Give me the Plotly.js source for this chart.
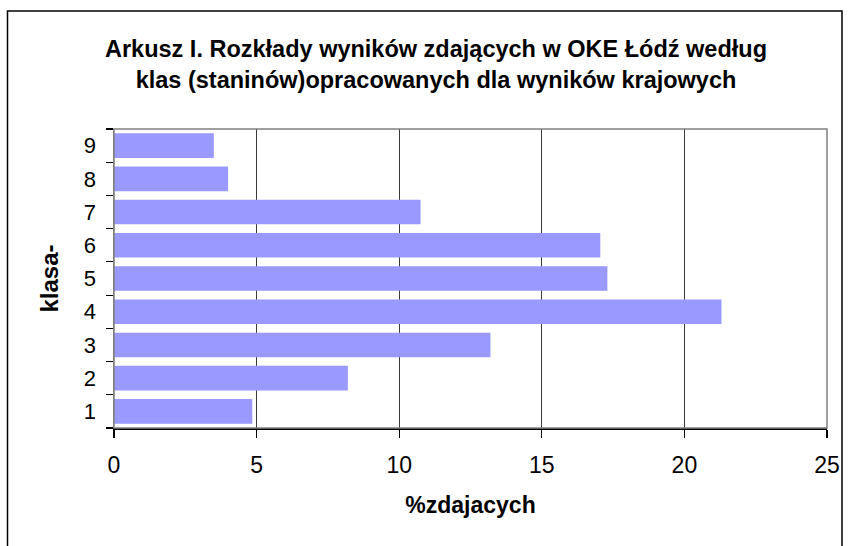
<!DOCTYPE html>
<html>
<head>
<meta charset="utf-8">
<script src="https://cdn.plot.ly/plotly-3.0.1.min.js"></script>
<style>
  html, body { margin: 0; padding: 0; background: #fff; overflow: hidden; }
  #chart { width: 853px; height: 546px; }
</style>
</head>
<body>
<div id="chart"></div>
<script>
// Data
const categories = ['1', '2', '3', '4', '5', '6', '7', '8', '9'];
const percentValues = [4.85, 8.2, 13.2, 21.3, 17.3, 17.05, 10.75, 4.0, 3.5];
const xTickValues = [0, 5, 10, 15, 20, 25];

const titleText = 'Arkusz I. Rozkłady wyników zdających w OKE Łódź według<br>klas (staninów)opracowanych dla wyników krajowych';
const xTitle = '%zdajacych';
const yTitle = 'klasa-';

const FONT = '"Liberation Sans", Arial, sans-serif';

const trace = {
  type: 'bar',
  orientation: 'h',
  x: percentValues,
  y: categories,
  marker: { color: '#9999FF', line: { width: 0 } },
  hoverinfo: 'x+y'
};

const layout = {
  width: 853,
  height: 546,
  margin: { l: 114, r: 26, t: 129, b: 118, pad: 0 },
  paper_bgcolor: '#ffffff',
  plot_bgcolor: '#ffffff',
  font: { family: FONT, color: '#000000', size: 22 },
  showlegend: false,
  bargap: 0.26,
  title: {
    text: titleText,
    font: { family: FONT, size: 23.5, color: '#000000', weight: 'bold' },
    xref: 'container', x: 436 / 853, xanchor: 'center',
    yref: 'container', y: 1 - 57 / 546, yanchor: 'middle'
  },
  xaxis: {
    range: [0, 25],
    tickvals: xTickValues,
    ticktext: xTickValues.map(String),
    showgrid: true,
    gridcolor: '#3a3a3a',
    gridwidth: 1.2,
    zeroline: false,
    showline: true,
    linecolor: '#000000',
    linewidth: 1.5,
    ticks: 'outside',
    ticklen: 8,
    tickwidth: 1.2,
    tickcolor: '#000000',
    tickfont: { family: FONT, size: 23, color: '#000000' },
    ticklabelstandoff: 8,
    fixedrange: true,
    title: {
      text: xTitle,
      font: { family: FONT, size: 23, color: '#000000', weight: 'bold' },
      standoff: 20
    }
  },
  yaxis: {
    type: 'category',
    categoryorder: 'array',
    categoryarray: categories,
    showgrid: false,
    zeroline: false,
    showline: true,
    linecolor: '#808080',
    linewidth: 1.5,
    ticks: 'outside',
    tickson: 'boundaries',
    ticklen: 7,
    tickwidth: 1.2,
    tickcolor: '#000000',
    tickfont: { family: FONT, size: 22, color: '#000000' },
    ticklabelstandoff: 12,
    fixedrange: true,
    title: {
      text: yTitle,
      font: { family: FONT, size: 24, color: '#000000', weight: 'bold' },
      standoff: 18
    }
  },
  shapes: [
    // plot area frame (grey)
    { type: 'rect', xref: 'paper', yref: 'paper', x0: 0, x1: 1, y0: 0, y1: 1,
      line: { color: '#808080', width: 1.5 }, layer: 'above' },
    // outer chart border
    { type: 'rect', xref: 'paper', yref: 'paper',
      x0: (7.5 - 114) / 713, x1: (842 - 114) / 713,
      y0: (428 - 600) / 299, y1: (428 - 11) / 299,
      line: { color: '#000000', width: 1.5 }, layer: 'below' }
  ]
};

Plotly.newPlot('chart', [trace], layout, { displayModeBar: false, staticPlot: true });
</script>
</body>
</html>
